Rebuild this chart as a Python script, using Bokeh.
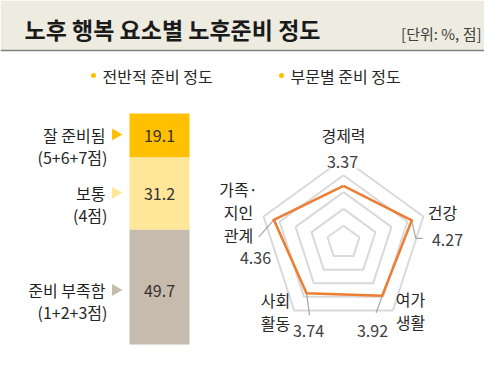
import math
from bokeh.plotting import figure
from bokeh.models import Range1d, ColumnDataSource
from bokeh.core.properties import value
from bokeh.embed import file_html
from bokeh.resources import INLINE

# ---- data ----
title_text = "노후 행복 요소별 노후준비 정도"
unit_text = "[단위: %, 점]"
legend_labels = ["전반적 준비 정도", "부문별 준비 정도"]

bar_labels = ["잘 준비됨", "보통", "준비 부족함"]
bar_sublabels = ["(5+6+7점)", "(4점)", "(1+2+3점)"]
bar_values = [19.1, 31.2, 49.7]
bar_colors = ["#FFC000", "#FFE699", "#C6BBAC"]

radar_cats = ["경제력", "건강", "여가\n생활", "사회\n활동", "가족·\n지인\n관계"]
radar_values = [3.37, 4.27, 3.92, 3.74, 4.36]
radar_max = 5
radar_rings = [1, 2, 3, 4, 5]

FONT = "Noto Sans CJK KR"

# ---- canvas (reference pixel coordinates) ----
p = figure(width=484, height=356, output_backend="svg", toolbar_location=None,
           x_range=Range1d(0, 484), y_range=Range1d(356, 0), min_border=0)
p.axis.visible = False
p.grid.visible = False
p.outline_line_color = None
p.background_fill_color = "white"
p.border_fill_color = "white"

# header band
p.quad(left=[0], right=[500], top=[0], bottom=[50], fill_color="#EEECE1", line_color=None)
p.segment(x0=[0], y0=[50], x1=[500], y1=[50], line_color="#7F7F7F", line_width=1.5)
p.text(x=[24], y=[28], text=[title_text], text_font=value(FONT), text_font_size="23px",
       text_font_style="bold", text_color="#1a1a1a", text_baseline="middle", text_align="left")
p.text(x=[481], y=[33], text=[unit_text], text_font=value(FONT), text_font_size="15px",
       text_color="#404040", text_baseline="middle", text_align="right")

# legend
for lx, lab in zip([93, 281], legend_labels):
    p.scatter(x=[lx], y=[75], size=5, marker="circle", fill_color="#FFC000", line_color=None)
    p.text(x=[lx + 9], y=[75], text=[lab], text_font=value(FONT), text_font_size="16px",
           text_color="#262626", text_baseline="middle", text_align="left")

# ---- stacked bar ----
BAR_TOP, BAR_SCALE = 113, 2.31
BAR_L, BAR_R = 129, 189
cum = [0]
for v in bar_values:
    cum.append(cum[-1] + v)
tops = [BAR_TOP + c * BAR_SCALE for c in cum[:-1]]
bots = [BAR_TOP + c * BAR_SCALE for c in cum[1:]]
p.quad(left=BAR_L, right=BAR_R, top=tops, bottom=bots, fill_color=bar_colors, line_color=None)
mids = [(t + b) / 2 for t, b in zip(tops, bots)]
mids[-1] += 4
p.text(x=[(BAR_L + BAR_R) / 2] * 3, y=mids, text=[f"{v:.1f}" for v in bar_values],
       text_font=value(FONT), text_font_size="16px", text_color="#333333",
       text_baseline="middle", text_align="center")
p.text(x=[105] * 3, y=[m - 1 for m in mids], text=bar_labels, text_font=value(FONT),
       text_font_size="16px", text_color="#1f1f1f",
       text_baseline="middle", text_align="right")
p.text(x=[107] * 3, y=[m + 21 for m in mids], text=bar_sublabels, text_font=value(FONT),
       text_font_size="16px", text_color="#262626", text_baseline="middle", text_align="right")
p.scatter(x=[115] * 3, y=[m - 1 for m in mids], marker="triangle", angle=-math.pi / 2,
          size=12, fill_color=bar_colors, line_color=None)

# ---- radar ----
CX, CY, R = 343, 242, 84
n = len(radar_cats)
angles = [math.pi / 2 - 2 * math.pi * i / n for i in range(n)]

def pt(val, a):
    r = val / radar_max * R
    return CX + r * math.cos(a), CY - r * math.sin(a)

for ring in radar_rings:
    pts = [pt(ring, a) for a in angles]
    xs = [q[0] for q in pts] + [pts[0][0]]
    ys = [q[1] for q in pts] + [pts[0][1]]
    p.line(xs, ys, line_color="#D9D9D9", line_width=2)

dpts = [pt(v, a) for v, a in zip(radar_values, angles)]

# leader lines (data point -> value label)
lead = [None,
        [(0, 0), (4, 18), (11, 18)],
        [(0, 0), (-6, 17)],
        [(0, 0), (3, 22)],
        [(0, 0), (-15, 17)]]
for (dx, dy), seg in zip(dpts, lead):
    if seg:
        p.line([dx + s[0] for s in seg], [dy + s[1] for s in seg], line_color="#A6A6A6", line_width=1.2)

p.line([q[0] for q in dpts] + [dpts[0][0]], [q[1] for q in dpts] + [dpts[0][1]],
       line_color="#ED7D31", line_width=2.5, line_join="miter")

# category labels & values
cat_pos = [(343, 134), (442, 211), (410, 298), (275, 299), (238, 188)]
val_pos = [(342, 161), (447, 239), (372, 330), (308, 330), (255, 257)]
for (x, y), lab in zip(cat_pos, radar_cats):
    lines = lab.split("\n")
    for k, ln in enumerate(lines):
        p.text(x=[x], y=[y + k * 23], text=[ln], text_font=value(FONT), text_font_size="16px",
               text_color="#262626", text_baseline="middle", text_align="center")
src_bg = ColumnDataSource(dict(x=[val_pos[0][0]], y=[val_pos[0][1]]))
p.rect(x="x", y="y", width=34, height=14, source=src_bg, fill_color="white", line_color=None)
for (x, y), v in zip(val_pos, radar_values):
    p.text(x=[x], y=[y], text=[f"{v:.2f}"], text_font=value(FONT), text_font_size="16px",
           text_color="#404040", text_baseline="middle", text_align="center")

open("out.html", "w").write(file_html(p, INLINE))
